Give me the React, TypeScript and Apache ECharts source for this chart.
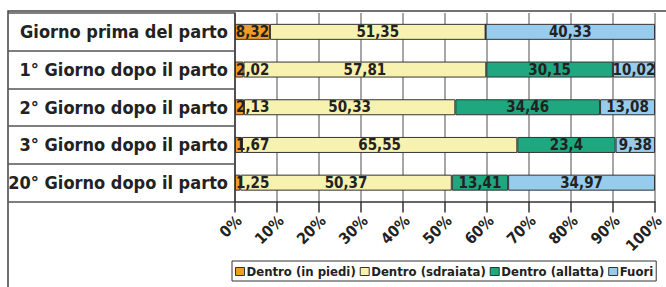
import React, { useEffect, useRef } from "react";
import * as echarts from "echarts";

const categories = [
  "Giorno prima del parto",
  "1° Giorno dopo il parto",
  "2° Giorno dopo il parto",
  "3° Giorno dopo il parto",
  "20° Giorno dopo il parto",
];
const seriesNames = ["Dentro (in piedi)", "Dentro (sdraiata)", "Dentro (allatta)", "Fuori"];
const inPiedi = [8.32, 2.02, 2.13, 1.67, 1.25];
const sdraiata = [51.35, 57.81, 50.33, 65.55, 50.37];
const allatta = [0, 30.15, 34.46, 23.4, 13.41];
const fuori = [40.33, 10.02, 13.08, 9.38, 34.97];
const xTicks = [0, 10, 20, 30, 40, 50, 60, 70, 80, 90, 100];

const colors = ["#F29B25", "#F8F2B0", "#1FA77F", "#97CCEC"];
const FONT = "'DejaVu Sans Condensed', sans-serif";

export default function App() {
  const ref = useRef<HTMLDivElement>(null);
  useEffect(() => {
    const chart = echarts.init(ref.current!, undefined, { renderer: "svg" });
    const all = [inPiedi, sdraiata, allatta, fuori];
    const series = all.map((vals, i) => ({
      name: seriesNames[i],
      type: "bar",
      stack: "total",
      barWidth: 16,
      itemStyle: { color: colors[i], borderColor: "#333", borderWidth: 1 },
      label: {
        show: true,
        position: "inside",
        color: "#222",
        fontFamily: FONT,
        fontWeight: "bold",
        fontSize: 15,
        formatter: (p: any) => (p.value ? String(p.value).replace(".", ",") : ""),
      },
      data: vals.map((v) =>
        v > 0 && v < 5 ? { value: v, label: { position: "insideLeft", distance: 1 } } : v
      ),
    }));
    chart.setOption({
      animation: false,
      grid: { left: 235, right: 11, top: 13, bottom: 85.5, containLabel: false, outerBoundsMode: "none" },
      graphic: [
        {
          type: "rect",
          shape: { x: 8, y: 11, width: 720, height: 320 },
          style: { fill: "none", stroke: "#444", lineWidth: 1.5 },
          silent: true,
        },
      ],
      legend: {
        left: 232,
        top: 261,
        width: 470,
        data: seriesNames,
        icon: "rect",
        itemWidth: 9,
        itemHeight: 8,
        itemGap: 4,
        padding: [4, 3, 3, 3],
        borderColor: "#333",
        borderWidth: 1,
        textStyle: { fontFamily: FONT, fontWeight: "bold", fontSize: 13, color: "#222", padding: [0, 0, 0, -3] },
        itemStyle: { borderColor: "#333", borderWidth: 1 },
      },
      xAxis: {
        type: "value",
        min: 0,
        max: 100,
        interval: 10,
        axisLine: { show: true, lineStyle: { color: "#333", width: 1.5 } },
        axisTick: { show: true, length: 11, lineStyle: { color: "#333", width: 1.5 } },
        splitLine: { show: true, lineStyle: { color: "#888", width: 1.5 } },
        axisLabel: {
          rotate: 45,
          align: "center",
          verticalAlign: "middle",
          margin: 21,
          color: "#222",
          fontFamily: FONT,
          fontWeight: "bold",
          fontSize: 15.5,
          formatter: (v: number) => (xTicks.includes(v) ? "{a|" + v + "%}" : ""),
          rich: {
            a: {
              width: 12,
              align: "right",
              color: "#222",
              fontFamily: FONT,
              fontWeight: "bold",
              fontSize: 15.5,
            },
          },
        },
      },
      yAxis: {
        type: "category",
        inverse: true,
        data: categories,
        axisLine: { show: true, lineStyle: { color: "#333", width: 1.5 } },
        axisTick: { show: true, length: 227, lineStyle: { color: "#555", width: 1.5 } },
        axisLabel: {
          margin: 7,
          color: "#222",
          fontFamily: FONT,
          fontWeight: "bold",
          fontSize: 18,
        },
      },
      series,
    });
    return () => chart.dispose();
  }, []);
  return <div ref={ref} style={{ width: 666, height: 287, position: "absolute", left: 0, top: 0 }} />;
}
